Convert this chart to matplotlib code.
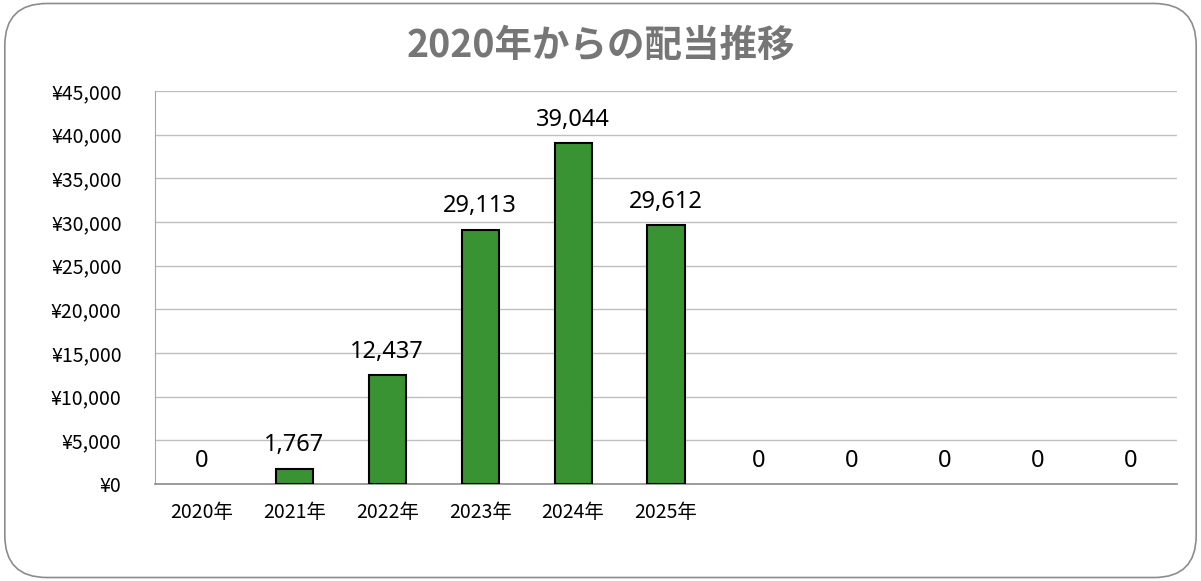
import matplotlib.pyplot as plt
from matplotlib.patches import FancyBboxPatch
from matplotlib.ticker import FuncFormatter, MultipleLocator

years = ['2020年', '2021年', '2022年', '2023年', '2024年', '2025年', '', '', '', '', '']
dividends = [0, 1767, 12437, 29113, 39044, 29612, 0, 0, 0, 0, 0]

cjk = ['Liberation Sans Narrow', 'Noto Sans CJK JP', 'DejaVu Sans']

fig = plt.figure(figsize=(12.01, 5.81), dpi=100)
fig.patch.set_facecolor('white')

# rounded chart frame
frame = FancyBboxPatch((0.004, 0.006), 0.992, 0.988, boxstyle='round,pad=0,rounding_size=0.035',
                       transform=fig.transFigure, facecolor='none', edgecolor='#8c8c8c',
                       linewidth=1.2, mutation_aspect=12.01 / 5.81, zorder=-1)
fig.patches.append(frame)

ax = fig.add_axes([155 / 1201, 1 - 484 / 581, 1022 / 1201, 393 / 581])
ax.set_zorder(2)
ax.patch.set_alpha(0)
x = list(range(len(years)))
edge_w = [1.5 if v else 0 for v in dividends]
bars = ax.bar(x, dividends, width=0.4, color='#3a9332', edgecolor='black', linewidth=edge_w, zorder=3)

for xi, v in zip(x, dividends):
    ax.text(xi, v + 1300, f'{v:,}', ha='center', va='bottom', fontsize=17,
            family='Noto Sans', color='black')

ax.set_xlim(-0.5, len(years) - 0.5)
ax.set_ylim(0, 45000)
ax.yaxis.set_major_locator(MultipleLocator(5000))
ax.yaxis.set_major_formatter(FuncFormatter(lambda v, p: f'¥{int(v):,}'))
ax.grid(axis='y', color='#bfbfbf', linewidth=1, zorder=0)
ax.set_xticks(x)
ax.set_xticklabels(years)
for lab in ax.get_xticklabels() + ax.get_yticklabels():
    lab.set_family(cjk)
    lab.set_fontsize(14)
ax.tick_params(axis='both', length=0)
ax.tick_params(axis='y', pad=24)
ax.tick_params(axis='x', pad=13)
for s in ['top', 'right']:
    ax.spines[s].set_visible(False)
ax.spines['left'].set_color('#a6a6a6')
ax.spines['bottom'].set_color('#8c8c8c')
ax.spines['bottom'].set_linewidth(1.2)

fig.text(0.5, 1 - 45 / 581, '2020年からの配当推移', ha='center', va='center', fontsize=27,
         fontweight='bold', color='#767676', family=['Noto Sans CJK JP', 'DejaVu Sans'])

fig.savefig('out.png', dpi=100)
